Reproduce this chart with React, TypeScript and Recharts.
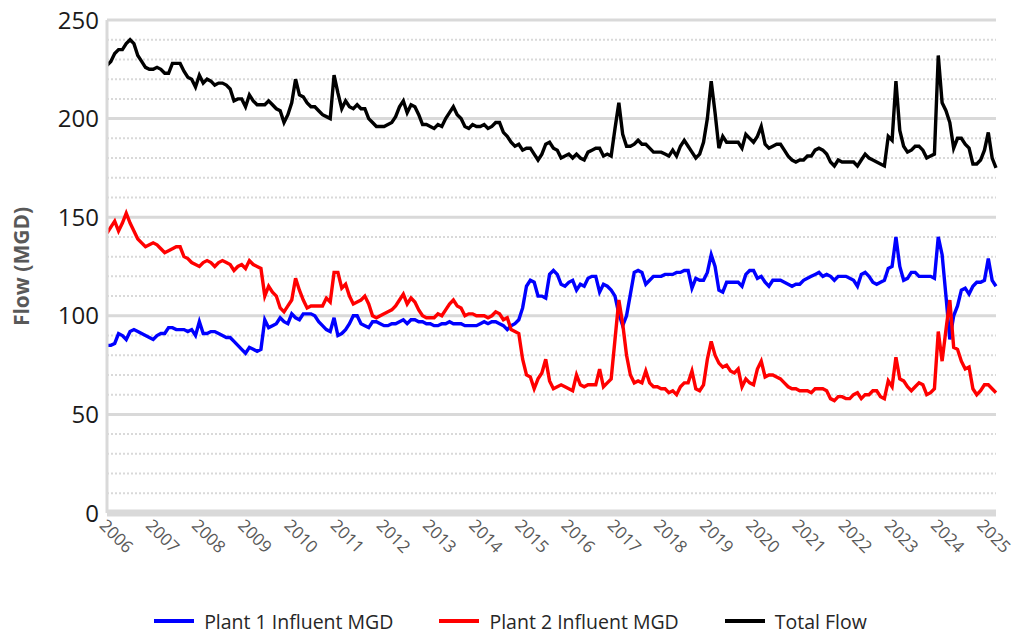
import { Legend, Line, LineChart, ReferenceLine, XAxis, YAxis } from 'recharts'

// monthly values, Jan 2006 .. Apr 2025
const plant1 = [
  85, 85, 86, 91, 90, 88, 92, 93, 92, 91, 90, 89,
  88, 90, 91, 91, 94, 94, 93, 93, 93, 92, 93, 90,
  97, 91, 91, 92, 92, 91, 90, 89, 89, 87, 85, 83,
  81, 84, 83, 82, 83, 98, 94, 95, 96, 99, 97, 96,
  101, 99, 98, 101, 101, 101, 100, 97, 95, 93, 92, 99,
  90, 91, 93, 96, 100, 100, 96, 95, 94, 97, 97, 96,
  95, 95, 96, 96, 97, 98, 96, 98, 98, 97, 97, 96,
  96, 95, 95, 96, 96, 97, 96, 96, 96, 95, 95, 95,
  95, 96, 97, 96, 97, 97, 96, 95, 93, 95, 96, 98,
  104, 115, 118, 117, 110, 110, 109, 121, 123, 121, 116, 115,
  117, 118, 113, 116, 115, 119, 120, 120, 112, 116, 115, 113,
  110, 101, 95, 100, 111, 122, 123, 122, 116, 118, 120, 120,
  120, 121, 121, 121, 122, 122, 123, 123, 114, 119, 118, 118,
  122, 131, 125, 113, 112, 117, 117, 117, 117, 115, 121, 123,
  123, 119, 120, 117, 115, 118, 118, 118, 117, 116, 115, 116,
  116, 118, 119, 120, 121, 122, 120, 121, 120, 118, 120, 120,
  120, 119, 118, 115, 121, 122, 120, 117, 116, 117, 118, 124,
  125, 140, 125, 118, 119, 122, 122, 120, 120, 120, 120, 119,
  140, 131, 110, 88, 100, 105, 113, 114, 111, 115, 117, 117,
  118, 129, 118, 115,
]

const plant2 = [
  142, 145, 148, 143, 147, 152, 147, 143, 139, 137, 135, 136,
  137, 136, 134, 132, 133, 134, 135, 135, 130, 129, 127, 126,
  125, 127, 128, 127, 125, 127, 128, 127, 126, 123, 125, 126,
  124, 128, 126, 125, 124, 110, 115, 112, 110, 104, 102, 105,
  108, 119, 113, 108, 104, 105, 105, 105, 105, 109, 107, 122,
  122, 114, 116, 110, 106, 107, 108, 110, 106, 100, 99, 100,
  101, 102, 103, 105, 108, 111, 106, 109, 107, 103, 100, 99,
  99, 99, 101, 100, 103, 106, 108, 105, 104, 100, 101, 101,
  100, 100, 100, 99, 100, 102, 101, 98, 99, 93, 92, 91,
  78, 70, 69, 63, 68, 71, 78, 67, 63, 64, 65, 64,
  63, 62, 70, 65, 64, 65, 65, 65, 73, 64, 66, 68,
  88, 108, 96, 80, 70, 66, 67, 66, 72, 66, 64, 64,
  63, 63, 61, 62, 60, 64, 66, 66, 72, 63, 62, 65,
  78, 87, 80, 76, 74, 75, 72, 71, 73, 64, 68, 66,
  65, 73, 77, 69, 70, 70, 69, 68, 66, 64, 63, 63,
  62, 62, 62, 61, 63, 63, 63, 62, 58, 57, 59, 59,
  58, 58, 60, 61, 58, 60, 60, 62, 62, 59, 58, 67,
  64, 79, 68, 67, 64, 62, 64, 66, 65, 60, 61, 63,
  92, 77, 93, 108, 84, 83, 77, 73, 74, 63, 60, 62,
  65, 65, 63, 61,
]

const totalFlow = [
  227, 229, 233, 235, 235, 238, 240, 238, 232, 229, 226, 225,
  225, 226, 225, 223, 223, 228, 228, 228, 224, 221, 220, 216,
  222, 218, 220, 219, 217, 218, 218, 217, 215, 209, 210, 210,
  206, 212, 209, 207, 207, 207, 209, 207, 205, 204, 198, 202,
  208, 220, 212, 211, 208, 206, 206, 204, 202, 201, 200, 222,
  213, 205, 209, 206, 205, 207, 205, 205, 200, 198, 196, 196,
  196, 197, 198, 201, 206, 209, 203, 207, 206, 202, 197, 197,
  196, 195, 197, 196, 200, 203, 206, 202, 200, 196, 195, 197,
  196, 196, 197, 195, 196, 198, 198, 193, 191, 188, 186, 187,
  184, 185, 185, 182, 179, 182, 187, 188, 185, 184, 180, 181,
  182, 180, 182, 180, 179, 183, 184, 185, 185, 181, 182, 181,
  195, 208, 192, 186, 186, 187, 189, 187, 187, 185, 183, 183,
  183, 182, 181, 184, 181, 186, 189, 186, 183, 180, 182, 188,
  200, 219, 203, 185, 191, 188, 188, 188, 188, 185, 192, 190,
  188, 191, 196, 187, 185, 186, 187, 187, 184, 181, 179, 178,
  179, 179, 181, 181, 184, 185, 184, 182, 178, 176, 179, 178,
  178, 178, 178, 176, 179, 182, 180, 179, 178, 177, 176, 191,
  189, 219, 194, 186, 183, 184, 186, 186, 184, 180, 181, 182,
  232, 208, 204, 198, 185, 190, 190, 187, 185, 177, 177, 179,
  184, 193, 180, 175,
]

const yearLabels = [
  '2006', '2007', '2008', '2009', '2010', '2011', '2012', '2013', '2014', '2015',
  '2016', '2017', '2018', '2019', '2020', '2021', '2022', '2023', '2024', '2025',
]
const yTicks = [0, 50, 100, 150, 200, 250]
const majorGrid = [50, 100, 150, 200, 250]
const minorGrid = [
  10, 20, 30, 40, 60, 70, 80, 90, 110, 120, 130, 140,
  160, 170, 180, 190, 210, 220, 230, 240,
]

const series = [
  { key: 'p1', name: 'Plant 1 Influent MGD', color: '#0000FF' },
  { key: 'p2', name: 'Plant 2 Influent MGD', color: '#FF0000' },
  { key: 'total', name: 'Total Flow', color: '#000000' },
]

const data = plant1.map((v, i) => ({ m: i, p1: v, p2: plant2[i], total: totalFlow[i] }))
const xTicks = yearLabels.map((_, i) => i * 12)

const font = '"Open Sans", "Noto Sans", sans-serif'
const gridColor = '#D9D9D9'

function YearTick({ x, y, payload }: any) {
  return (
    <text
      x={x}
      y={y}
      dy="0.71em"
      transform={`rotate(45 ${x} ${y})`}
      textAnchor="start"
      fill="#595959"
      fontSize={17}
      fontFamily={font}
    >
      {yearLabels[Math.round(payload.value / 12)]}
    </text>
  )
}

function AxisTitle({ viewBox }: any) {
  const cx = viewBox.x + 21
  const cy = viewBox.y + viewBox.height / 2
  return (
    <text
      x={cx}
      y={cy}
      transform={`rotate(-90 ${cx} ${cy})`}
      textAnchor="middle"
      dominantBaseline="central"
      fill="#595959"
      fontSize={21}
      fontWeight="bold"
      fontFamily={font}
    >
      Flow (MGD)
    </text>
  )
}

function LegendBox() {
  return (
    <div
      style={{
        height: 40,
        boxSizing: 'border-box',
        paddingTop: 12,
        paddingLeft: 25,
        display: 'flex',
        justifyContent: 'center',
        alignItems: 'center',
        fontFamily: font,
        fontSize: 19.5,
        color: '#262626',
      }}
    >
      {series.map((s) => (
        <div key={s.key} style={{ display: 'flex', alignItems: 'center', margin: '0 23px' }}>
          <span style={{ display: 'inline-block', width: 40, height: 4, background: s.color, marginRight: 10 }} />
          <span>{s.name}</span>
        </div>
      ))}
    </div>
  )
}

export default function App() {
  return (
    <div style={{ position: 'absolute', left: 0, top: 0, background: '#fff' }}>
      <LineChart width={1013} height={635} data={data} margin={{ top: 20, right: 17, left: 0, bottom: 0 }}>
        {minorGrid.map((v) => (
          <ReferenceLine key={`mi${v}`} y={v} stroke={gridColor} strokeWidth={2} strokeDasharray="2 2" />
        ))}
        {majorGrid.map((v) => (
          <ReferenceLine key={`ma${v}`} y={v} stroke={gridColor} strokeWidth={3} />
        ))}
        <ReferenceLine y={0} stroke={gridColor} strokeWidth={7} />
        <XAxis
          dataKey="m"
          type="number"
          domain={[0, plant1.length - 1]}
          ticks={xTicks}
          interval={0}
          axisLine={false}
          tickLine={false}
          tickSize={0}
          tickMargin={5}
          height={82}
          tick={<YearTick />}
        />
        <YAxis
          domain={[0, 250]}
          ticks={yTicks}
          interval={0}
          width={107}
          axisLine={{ stroke: gridColor, strokeWidth: 3 }}
          tickLine={false}
          tickSize={0}
          tickMargin={8}
          tick={{ fill: '#1A1A1A', fontSize: 24, fontFamily: font }}
          label={<AxisTitle />}
        />
        <Legend verticalAlign="bottom" content={<LegendBox />} />
        {series.map((s) => (
          <Line
            key={s.key}
            type="linear"
            dataKey={s.key}
            name={s.name}
            stroke={s.color}
            strokeWidth={3.4}
            dot={false}
            activeDot={false}
            isAnimationActive={false}
          />
        ))}
      </LineChart>
    </div>
  )
}
